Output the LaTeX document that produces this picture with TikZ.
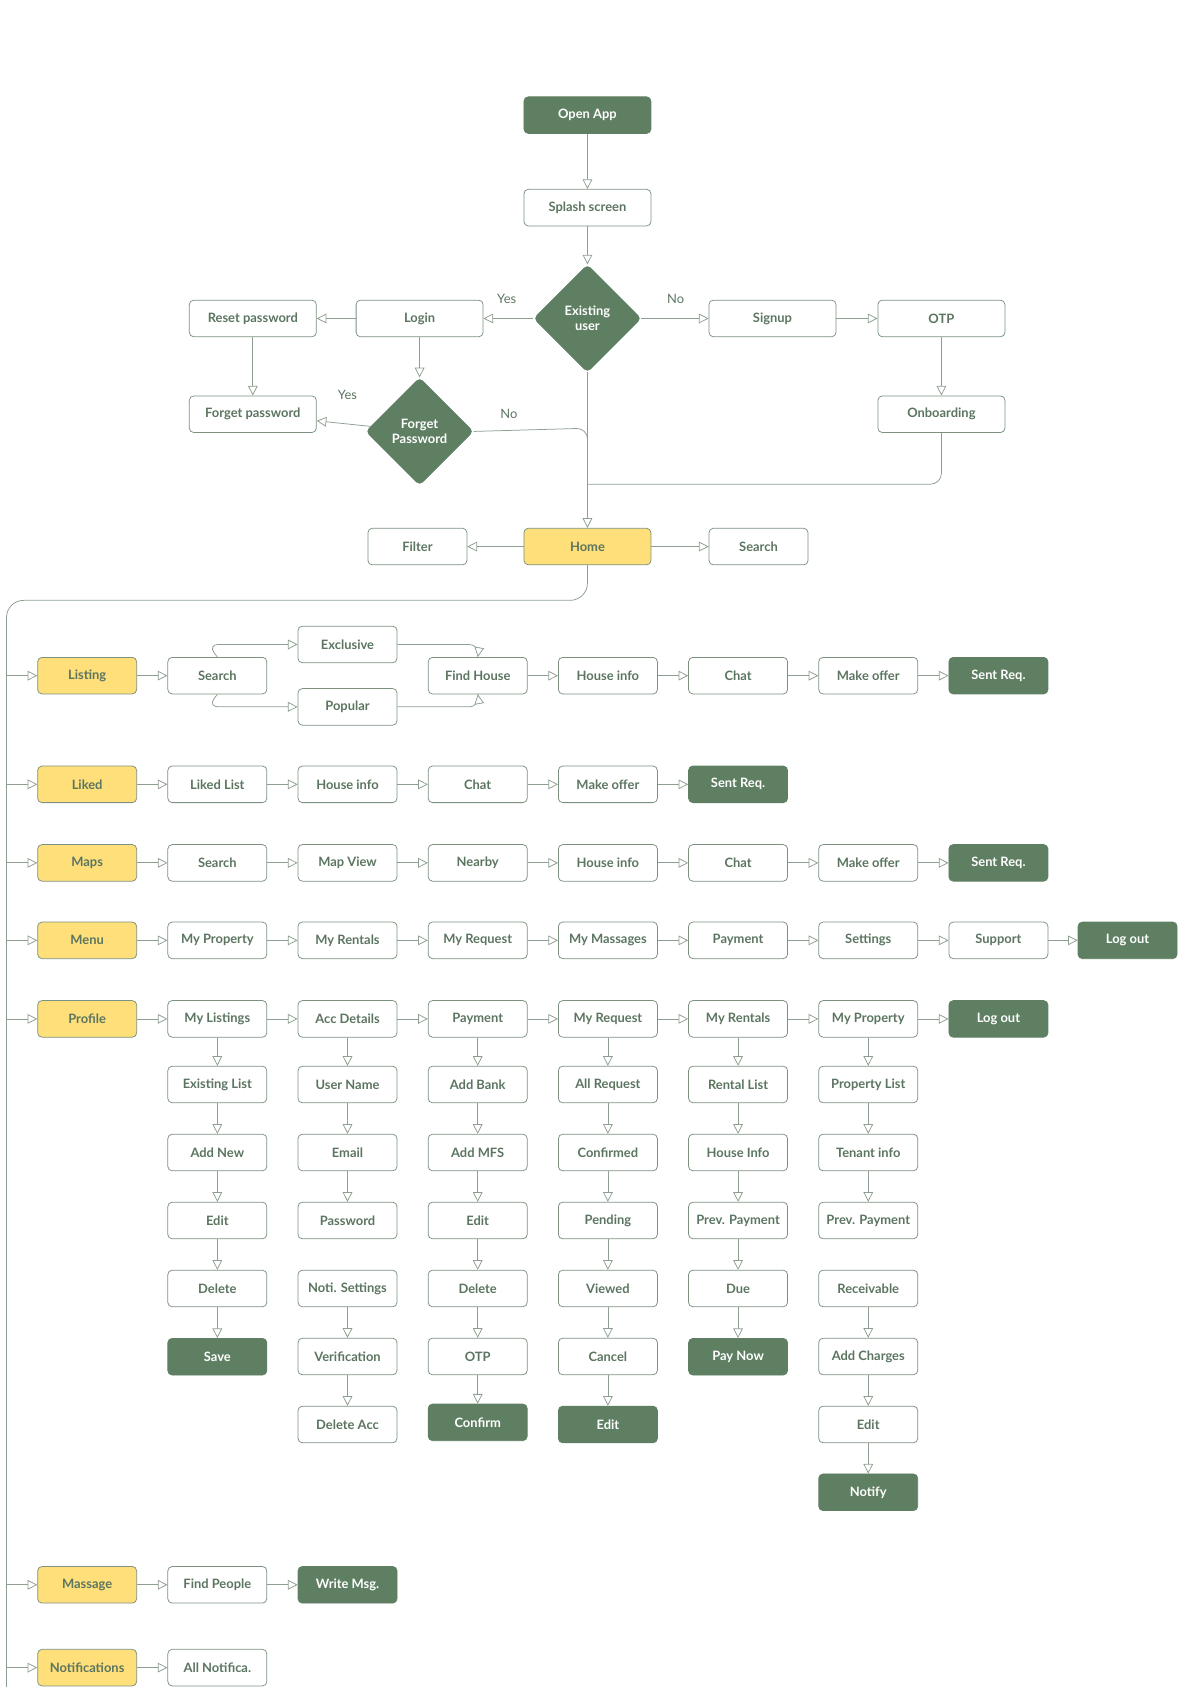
\documentclass[tikz,border=0pt]{standalone}
\usepackage{fontspec}
\setmainfont{Lato}
\usetikzlibrary{arrows.meta,shapes.geometric}
\definecolor{gtxt}{HTML}{5B7560}
\definecolor{gfill}{HTML}{5F7F63}
\definecolor{yfill}{HTML}{FEDF7A}
\definecolor{gline}{HTML}{8E9E90}
\begin{document}
\begin{tikzpicture}[x=1pt,y=-1pt,
  font=\fontsize{12}{14}\selectfont\bfseries,
  box/.style={draw=gtxt!80,line width=0.7pt,rounded corners=4pt,minimum width=92pt,minimum height=34pt,inner sep=1pt,text=gtxt,fill=white},
  wide/.style={box,minimum width=118pt},
  dark/.style={fill=gfill,text=white,draw=gfill},
  yel/.style={fill=yfill,draw=gtxt!80},
  dia/.style={diamond,fill=gfill,text=white,draw=gfill,rounded corners=4pt,minimum width=100pt,minimum height=100pt,inner sep=0pt,align=center},
  ar/.style={draw=gline,line width=0.7pt,-{Triangle[open,length=9pt,width=9pt,fill=white]}},
  ln/.style={draw=gline,line width=0.7pt},
  lab/.style={text=gtxt,font=\fontsize{12}{14}\selectfont}]
\useasboundingbox (0,0) rectangle (1095,1568);
% top
\node[wide,dark] (open) at (546,107) {Open App};
\node[wide] (splash) at (546,193) {Splash screen};
\node[dia] (exist) at (546,296) {Existing\\user};
\node[wide] (login) at (390,296) {Login};
\node[wide] (reset) at (235,296) {Reset password};
\node[wide] (signup) at (718,296) {Signup};
\node[wide] (otp) at (875,296) {OTP};
\node[wide] (forgetp) at (235,385) {Forget password};
\node[dia] (fdia) at (390,401) {Forget\\Password};
\node[wide] (onb) at (875,385) {Onboarding};
\node[wide,yel] (home) at (546,508) {Home};
\node[box] (filter) at (388,508) {Filter};
\node[box] (hsearch) at (705,508) {Search};
\draw[ar] (open) -- (splash);
\draw[ar] (splash) -- (exist);
\draw[ar] (exist) -- (login);
\draw[ar] (exist) -- (signup);
\draw[ar] (signup) -- (otp);
\draw[ar] (login) -- (reset);
\draw[ar] (reset) -- (forgetp);
\draw[ar] (login) -- (fdia);
\draw[ar] (fdia) -- (forgetp);
\draw[ar] (otp) -- (onb);
\draw[ar] (exist) -- (home);
\draw[ln,rounded corners=10pt] (fdia.east) -- (546,398) -- (546,430);
\draw[ln,rounded corners=10pt] (onb.south) -- (875,450) -- (546,450);
\draw[ar] (home) -- (filter);
\draw[ar] (home) -- (hsearch);
\node[lab] (l1) at (471,278) {Yes};
\node[lab] (l2) at (628,278) {No};
\node[lab] (l3) at (323,367) {Yes};
\node[lab] (l4) at (473,385) {No};
% trunk
\coordinate (tEnd) at (6,1550);
\draw[ln,rounded corners=16pt] (home.south) -- (546,558) -- (6,558) -- (6,1568);
% category rows
\foreach \n/\t/\y in {cL/Listing/628,cK/Liked/729,cM/Maps/802,cN/Menu/874,cP/Profile/947,cG/Massage/1473,cT/Notifications/1550}{
  \node[box,yel] (\n) at (81,\y) {\t};
  \coordinate (\n b) at (6,\y);
  \draw[ar] (\n b) -- (\n);
}
% Listing
\node[box] (l2) at (202,628) {Search};
\node[box] (lex) at (323,599) {Exclusive};
\node[box] (lpo) at (323,657) {Popular};
\node[box] (lfh) at (444,628) {Find House};
\draw[ar] (cL) -- (l2);
\draw[ar,rounded corners=10pt] (l2.north) -- (193,599) -- (lex.west);
\draw[ar,rounded corners=10pt] (l2.south) -- (193,657) -- (lpo.west);
\draw[ar,rounded corners=10pt] (lex.east) -- (446,599) -- (lfh.north);
\draw[ar,rounded corners=10pt] (lpo.east) -- (446,657) -- (lfh.south);
\node[box] (l5) at (565,628) {House info};
\node[box] (l6) at (686,628) {Chat};
\node[box] (l7) at (807,628) {Make offer};
\node[box,dark] (l8) at (928,628) {Sent Req.};
\draw[ar] (lfh) -- (l5); \draw[ar] (l5) -- (l6); \draw[ar] (l6) -- (l7); \draw[ar] (l7) -- (l8);
% generic rows
\newcommand\hrow[4]{% prefix, y, list, lastdark
  \foreach \t [count=\i] in {#3}{
    \pgfmathtruncatemacro\xx{202+121*(\i-1)}
    \node[box] (#1\i) at (\xx,#2) {\t};
  }
}
\hrow{k}{729}{Liked List,House info,Chat,Make offer}{}
\node[box,dark] (k5) at (686,729) {Sent Req.};
\draw[ar] (cK) -- (k1); \foreach \a/\b in {1/2,2/3,3/4,4/5}{\draw[ar] (k\a) -- (k\b);}
\hrow{m}{802}{Search,Map View,Nearby,House info,Chat,Make offer}{}
\node[box,dark] (m7) at (928,802) {Sent Req.};
\draw[ar] (cM) -- (m1); \foreach \a/\b in {1/2,2/3,3/4,4/5,5/6,6/7}{\draw[ar] (m\a) -- (m\b);}
\hrow{n}{874}{My Property,My Rentals,My Request,My Massages,Payment,Settings,Support}{}
\node[box,dark] (n8) at (1048,874) {Log out};
\draw[ar] (cN) -- (n1); \foreach \a/\b in {1/2,2/3,3/4,4/5,5/6,6/7,7/8}{\draw[ar] (n\a) -- (n\b);}
\hrow{p}{947}{My Listings,Acc Details,Payment,My Request,My Rentals,My Property}{}
\node[box,dark] (p7) at (928,947) {Log out};
\draw[ar] (cP) -- (p1); \foreach \a/\b in {1/2,2/3,3/4,4/5,5/6,6/7}{\draw[ar] (p\a) -- (p\b);}
% columns
\newcommand\vcol[3]{% prefix, x, list
  \foreach \t [count=\i] in {#3}{
    \pgfmathsetmacro\yy{1008+63.2*(\i-1)}
    \node[box] (#1\i) at (#2,\yy) {\t};
  }
}
\vcol{a}{202}{Existing List,Add New,Edit,Delete}
\node[box,dark] (a5) at (202,1261) {Save};
\draw[ar] (p1) -- (a1); \foreach \a/\b in {1/2,2/3,3/4,4/5}{\draw[ar] (a\a) -- (a\b);}
\vcol{b}{323}{User Name,Email,Password,Noti. Settings,Verification,Delete Acc}
\draw[ar] (p2) -- (b1); \foreach \a/\b in {1/2,2/3,4/5,5/6}{\draw[ar] (b\a) -- (b\b);}
\vcol{c}{444}{Add Bank,Add MFS,Edit,Delete,OTP}
\node[box,dark] (c6) at (444,1322) {Confirm};
\draw[ar] (p3) -- (c1); \foreach \a/\b in {1/2,2/3,3/4,4/5,5/6}{\draw[ar] (c\a) -- (c\b);}
\vcol{d}{565}{All Request,Confirmed,Pending,Viewed,Cancel}
\node[box,dark] (d6) at (565,1324) {Edit};
\draw[ar] (p4) -- (d1); \foreach \a/\b in {1/2,2/3,3/4,4/5,5/6}{\draw[ar] (d\a) -- (d\b);}
\vcol{e}{686}{Rental List,House Info,Prev. Payment,Due}
\node[box,dark] (e5) at (686,1261) {Pay Now};
\draw[ar] (p5) -- (e1); \foreach \a/\b in {1/2,2/3,3/4,4/5}{\draw[ar] (e\a) -- (e\b);}
\vcol{f}{807}{Property List,Tenant info,Prev. Payment,Receivable,Add Charges,Edit}
\node[box,dark] (f7) at (807,1387) {Notify};
\draw[ar] (p6) -- (f1); \foreach \a/\b in {1/2,2/3,4/5,5/6,6/7}{\draw[ar] (f\a) -- (f\b);}
% massage, notifications
\node[box] (g1) at (202,1473) {Find People};
\node[box,dark] (g2) at (323,1473) {Write Msg.};
\draw[ar] (cG) -- (g1); \draw[ar] (g1) -- (g2);
\node[box] (t1) at (202,1550) {All Notifica.};
\draw[ar] (cT) -- (t1);
\end{tikzpicture}
\end{document}
